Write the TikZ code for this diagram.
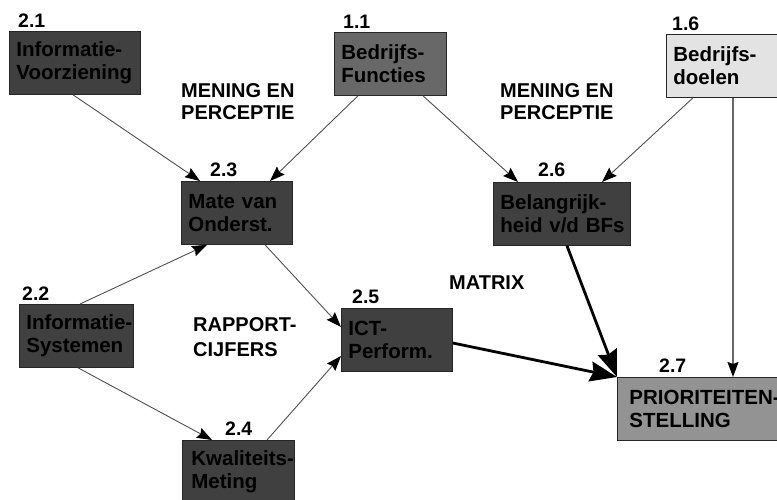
\documentclass[tikz,border=0pt]{standalone}
\usepackage{fontspec}
\setmainfont{Liberation Sans}
\usetikzlibrary{arrows.meta}

\definecolor{boxdark}{HTML}{404040}
\definecolor{boxmid}{HTML}{686868}
\definecolor{boxgrey}{HTML}{939393}
\definecolor{boxlight}{HTML}{E3E3E3}
\definecolor{linegrey}{HTML}{505050}

% box text never breaks after its hyphens; long lines simply run on
\newcommand{\dgboxfont}{\fontsize{20.5}{23}\selectfont\bfseries
  \exhyphenpenalty=10000 \hyphenpenalty=10000 \hbadness=10000 \hfuzz=200pt}
\newcommand{\dgnumfont}{\fontsize{19.5}{21}\selectfont\bfseries}
\newcommand{\dgnotefont}{\fontsize{20}{22}\selectfont\bfseries}

\begin{document}
\begin{tikzpicture}[x=1pt,y=-1pt,
  procbox/.style={draw=black!85, line width=0.8pt, anchor=north west,
    align=left, inner xsep=7pt, inner ysep=0pt, minimum height=63pt,
    text width=#1, font=\dgboxfont, text=black},
  numlabel/.style={anchor=base west, inner sep=0pt, font=\dgnumfont},
  note/.style={anchor=north west, inner sep=0pt, align=left, font=\dgnotefont},
  thinarrow/.style={draw=linegrey, line width=0.9pt,
    -{Stealth[length=15pt, width=11pt, inset=2pt, color=black]}},
  greyarrow/.style={draw=black!60, line width=1.3pt,
    -{Stealth[length=15pt, width=11pt, inset=2pt, color=black]}},
  thickarrow/.style={draw=black, line width=2.8pt,
    -{Stealth[length=27pt, width=20pt, inset=3pt]}}]

\useasboundingbox (0,0) rectangle (777,499);
\clip (0,0) rectangle (777,499);
\fill[white] (0,0) rectangle (777,499);

% process boxes
\node[procbox=117pt, fill=boxdark]  (b21) at (9,31)   {Informatie-\\Voorziening};
\node[procbox=98pt,  fill=boxmid]   (b11) at (334,32) {Bedrijfs-\\Functies};
\node[procbox=98pt,  fill=boxlight] (b16) at (666,34) {Bedrijfs-\\doelen};
\node[procbox=97pt,  fill=boxdark]  (b23) at (181,181){Mate~van\\Onderst.};
\node[procbox=123pt, fill=boxdark]  (b26) at (493,182){Belangrijk-\\heid~v/d~BFs};
\node[procbox=100pt, fill=boxdark]  (b22) at (19,304) {Informatie-\\Systemen};
\node[procbox=97pt,  fill=boxdark]  (b25) at (341,308){ICT-\\Perform.};
\node[procbox=94pt,  fill=boxdark, inner xsep=9pt] (b24) at (182,440){Kwaliteits-\\Meting};
\node[procbox=150pt, fill=boxgrey, inner xsep=12pt] (b27) at (617,377){PRIORITEITEN-\\STELLING};

% box numbers
\node[numlabel] (n21) at ([xshift=9pt,yshift=4pt]b21.north west)  {2.1};
\node[numlabel] (n11) at ([xshift=9pt,yshift=4pt]b11.north west)  {1.1};
\node[numlabel] (n16) at ([xshift=6pt,yshift=4pt]b16.north west)  {1.6};
\node[numlabel] (n23) at ([xshift=29pt,yshift=5pt]b23.north west) {2.3};
\node[numlabel] (n26) at ([xshift=45pt,yshift=6pt]b26.north west) {2.6};
\node[numlabel] (n22) at ([xshift=3pt,yshift=4pt]b22.north west)  {2.2};
\node[numlabel] (n25) at ([xshift=11pt,yshift=5pt]b25.north west) {2.5};
\node[numlabel] (n24) at ([xshift=43pt,yshift=5pt]b24.north west) {2.4};
\node[numlabel] (n27) at ([xshift=42pt,yshift=5pt]b27.north west) {2.7};

% free annotations
\node[note] (m1) at (181,83)  {MENING EN\\PERCEPTIE};
\node[note] (m2) at (500,83)  {MENING EN\\PERCEPTIE};
\node[note, font=\fontsize{20}{25}\selectfont\bfseries] (rc) at (193,317) {RAPPORT-\\CIJFERS};
\node[note] (mx) at (449,276) {MATRIX};

% connectors
\draw[thinarrow] ([xshift=64pt]b21.south west) -- ([xshift=19pt]b23.north west);
\draw[thinarrow] ([xshift=24pt]b11.south west) -- ([xshift=89pt]b23.north west);
\draw[thinarrow] ([xshift=89pt]b11.south west) -- ([xshift=25pt]b26.north west);
\draw[thinarrow] ([xshift=27pt]b16.south west) -- ([xshift=109pt]b26.north west);
\draw[greyarrow] ([xshift=67pt]b16.south west) -- ([xshift=116pt]b27.north west);
\draw[thinarrow] ([xshift=61pt]b22.north west) -- ([xshift=26pt]b23.south west);
\draw[thinarrow] ([xshift=59pt]b22.south west) -- ([xshift=30pt]b24.north west);
\draw[thinarrow] ([xshift=84pt]b23.south west) -- ([yshift=-19pt]b25.north west);
\draw[thinarrow] ([xshift=85pt]b24.north west) -- ([yshift=-48pt]b25.north west);
\draw[thickarrow] ([yshift=-35pt]b25.north east) -- (b27.north west);
\draw[thickarrow] ([xshift=74pt]b26.south west) -- (b27.north west);

\end{tikzpicture}
\end{document}
